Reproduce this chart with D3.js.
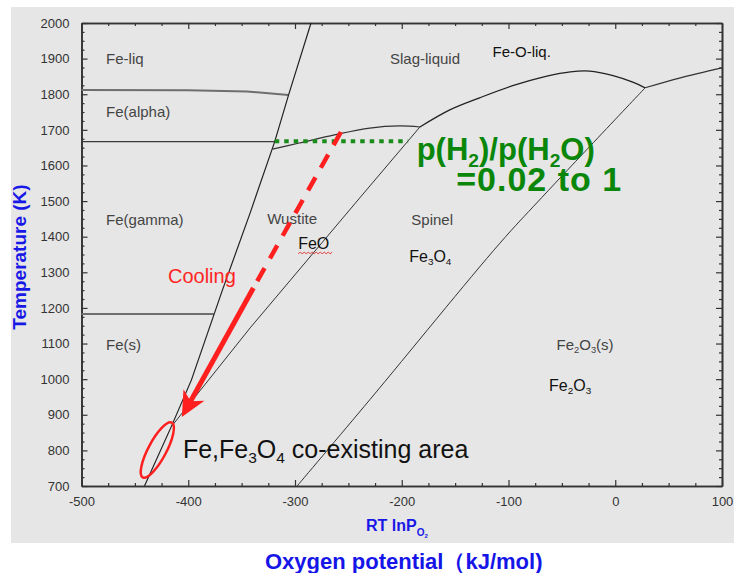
<!DOCTYPE html>
<html>
<head>
<meta charset="utf-8">
<script src="https://cdnjs.cloudflare.com/ajax/libs/d3/7.8.5/d3.min.js"></script>
<style>
  body { margin: 0; background: #fff; }
  svg { display: block; font-family: "Liberation Sans", Arial, sans-serif; }
</style>
</head>
<body>
<div id="chart"></div>
<script>
// Fe-O phase diagram, T (K) vs RT lnPO2 (kJ/mol)
var xTicks = [-500, -400, -300, -200, -100, 0, 100];
var yTicks = [700, 800, 900, 1000, 1100, 1200, 1300, 1400, 1500, 1600, 1700, 1800, 1900, 2000];

// phase boundaries, [RT lnPO2, T]
var feBoundary = [[-285, 2000], [-306, 1798], [-319, 1667], [-342, 1467], [-368, 1250], [-397, 998], [-416, 866], [-441, 700]];
var liqAlpha = [[-500, 1812], [-400, 1811], [-345, 1808], [-306, 1798]];
var alphaGamma = [[-500, 1667], [-319, 1667]];
var gammaSolid = [[-500, 1183], [-376, 1183]];
var wustiteTop = [[-321, 1646], [-296, 1663], [-263, 1686], [-230, 1705], [-202, 1711], [-183, 1708]];
var wustiteSpinel = [[-183, 1708], [-241, 1503], [-342, 1144], [-416, 866]];
var slagTop = [[-183, 1708], [-155, 1756], [-127, 1790], [-96, 1824], [-64, 1851], [-42, 1863], [-24, 1865], [-2, 1852], [17, 1833], [28, 1818]];
var feOLiq = [[28, 1818], [61, 1846], [100, 1874]];
var spinelHematite = [[28, 1818], [-71, 1503], [-108, 1382], [-230, 942], [-298, 700]];

// region names and where they sit
var regionNames = ["Fe-liq", "Fe(alpha)", "Fe(gamma)", "Fe(s)", "Slag-liquid", "Fe-O-liq.", "Wustite", "FeO", "Spinel", "Fe_3O_4", "Fe_2O_3(s)", "Fe_2O_3"];
var regionAt = [[-477, 1885], [-477, 1736], [-477, 1433], [-477, 1082], [-211, 1885], [-115, 1905], [-326, 1436], [-297, 1365], [-191, 1433], [-193, 1329], [-55, 1082], [-62, 967]];

// annotations
var h2Ratio = [[-319, 1668], [-194, 1668]];
var coolingPath = [[-257, 1694], [-339, 1256], [-406, 894]];
var coexistAt = [-429, 801];

var svg = d3.select("#chart").append("svg")
  .attr("width", 734)
  .attr("height", 573);

svg.append("rect")
  .attr("x", 11).attr("y", 7)
  .attr("width", 723).attr("height", 536)
  .attr("fill", "#e6e6e6");

var x = d3.scaleLinear().domain([-500, 100]).range([81.5, 722]);
var y = d3.scaleLinear().domain([700, 2000]).range([486, 23]);

var minorX = d3.range(-500, 101, 25).filter(function (d) { return d % 100 != 0; });
var minorY = d3.range(700, 2001, 25).filter(function (d) { return d % 100 != 0; });

function styleAxis(g) {
  g.select(".domain").attr("stroke", "#333").attr("stroke-width", 1.6);
  g.selectAll(".tick line").attr("stroke", "#333").attr("stroke-width", 1.2);
  g.selectAll(".tick text")
    .attr("fill", "#333")
    .style("font-size", "13px")
    .style("font-family", "'Liberation Sans', Arial, sans-serif");
}

// bottom
svg.append("g").attr("transform", "translate(0,486)")
  .call(d3.axisBottom(x).tickValues(minorX).tickSizeInner(-3).tickSizeOuter(0).tickFormat(""))
  .call(styleAxis);
svg.append("g").attr("transform", "translate(0,486)")
  .call(d3.axisBottom(x).tickValues(xTicks).tickSizeInner(-6).tickSizeOuter(0).tickPadding(11)
    .tickFormat(function (d) { return String(d); }))
  .call(styleAxis);
// top
svg.append("g").attr("transform", "translate(0,23)")
  .call(d3.axisTop(x).tickValues(minorX).tickSizeInner(-3).tickSizeOuter(0).tickFormat(""))
  .call(styleAxis);
svg.append("g").attr("transform", "translate(0,23)")
  .call(d3.axisTop(x).tickValues(xTicks).tickSizeInner(-6).tickSizeOuter(0).tickFormat(""))
  .call(styleAxis);
// left
svg.append("g").attr("transform", "translate(81.5,0)")
  .call(d3.axisLeft(y).tickValues(minorY).tickSizeInner(-3).tickSizeOuter(0).tickFormat(""))
  .call(styleAxis);
svg.append("g").attr("transform", "translate(81.5,0)")
  .call(d3.axisLeft(y).tickValues(yTicks).tickSizeInner(-6).tickSizeOuter(0).tickPadding(12)
    .tickFormat(function (d) { return String(d); }))
  .call(styleAxis);
// right
svg.append("g").attr("transform", "translate(722,0)")
  .call(d3.axisRight(y).tickValues(minorY).tickSizeInner(-3).tickSizeOuter(0).tickFormat(""))
  .call(styleAxis);
svg.append("g").attr("transform", "translate(722,0)")
  .call(d3.axisRight(y).tickValues(yTicks).tickSizeInner(-6).tickSizeOuter(0).tickFormat(""))
  .call(styleAxis);

var line = d3.line().x(function (d) { return x(d[0]); }).y(function (d) { return y(d[1]); });
var smooth = d3.line().x(function (d) { return x(d[0]); }).y(function (d) { return y(d[1]); })
  .curve(d3.curveCatmullRom.alpha(0.5));

function boundary(pts, gen, color, w) {
  svg.append("path")
    .attr("d", gen(pts))
    .attr("fill", "none")
    .attr("stroke", color)
    .attr("stroke-width", w);
}
boundary(liqAlpha, line, "#6e6e6e", 2);
boundary(gammaSolid, line, "#6e6e6e", 2);
boundary(alphaGamma, line, "#3a3a3a", 1.3);
boundary(feBoundary, line, "#222", 1.2);
boundary(wustiteTop, smooth, "#333", 1.2);
boundary(wustiteSpinel, line, "#333", 1);
boundary(slagTop, smooth, "#222", 1.3);
boundary(feOLiq, smooth, "#333", 1.1);
boundary(spinelHematite, smooth, "#333", 1);

// text with _n subscripts
function addText(parent, str, px, py, size, color, weight) {
  var t = parent.append("text")
    .attr("x", px).attr("y", py)
    .attr("fill", color)
    .style("font-size", size + "px")
    .style("font-weight", weight || "normal");
  var parts = str.split(/(_\d)/);
  var shift = size * 0.22, lowered = false;
  parts.forEach(function (p) {
    if (p == "") return;
    if (p[0] == "_") {
      t.append("tspan").attr("dy", lowered ? 0 : shift)
        .style("font-size", (size * 0.62) + "px").text(p.slice(1));
      lowered = true;
    } else {
      t.append("tspan").attr("dy", lowered ? -shift : 0).text(p);
      lowered = false;
    }
  });
  return t;
}

var dark = { "Fe-O-liq.": 15, "FeO": 16, "Fe_3O_4": 16, "Fe_2O_3": 16 };
regionNames.forEach(function (name, i) {
  var px = x(regionAt[i][0]), py = y(regionAt[i][1]);
  if (dark[name]) addText(svg, name, px, py, dark[name], "#111");
  else addText(svg, name, px, py, 15, "#444");
});

// spell-check squiggle under FeO
var feoX = x(regionAt[7][0]), feoY = y(regionAt[7][1]) + 3;
var sq = d3.range(0, 35, 2).map(function (d, i) { return [feoX + d, feoY + (i % 2 ? 0 : 1.6)]; });
svg.append("path").attr("d", d3.line()(sq)).attr("fill", "none").attr("stroke", "#e03030").attr("stroke-width", 0.9);

// H2/H2O ratio line
svg.append("path")
  .attr("d", line(h2Ratio))
  .attr("fill", "none")
  .attr("stroke", "#1a8c1a")
  .attr("stroke-width", 4)
  .attr("stroke-dasharray", "4.5,5");

addText(svg, "p(H_2)/p(H_2O)", x(-186), y(1615), 31, "#0a870a", "bold");
addText(svg, "=0.02 to 1", x(-149), y(1529), 34, "#0a870a", "bold")
  .style("letter-spacing", "1px");

// cooling arrow
var p0 = [x(coolingPath[0][0]), y(coolingPath[0][1])];
var p1 = [x(coolingPath[1][0]), y(coolingPath[1][1])];
var tip = [x(coolingPath[2][0]), y(coolingPath[2][1])];
svg.append("path")
  .attr("d", d3.line()([p0, p1]))
  .attr("stroke", "#ff1f1f").attr("stroke-width", 4.5)
  .attr("stroke-dasharray", "15,11");
var dx = tip[0] - p1[0], dy = tip[1] - p1[1], len = Math.sqrt(dx * dx + dy * dy);
var ux = dx / len, uy = dy / len, nx = -uy, ny = ux;
var headLen = 25, halfW = 12, notch = 7;
var base = [tip[0] - ux * headLen, tip[1] - uy * headLen];
var notchPt = [tip[0] - ux * (headLen - notch), tip[1] - uy * (headLen - notch)];
svg.append("path")
  .attr("d", d3.line()([p1, notchPt]))
  .attr("stroke", "#ff1f1f").attr("stroke-width", 5);
svg.append("path")
  .attr("d", d3.line()([tip, [base[0] + nx * halfW, base[1] + ny * halfW], notchPt,
    [base[0] - nx * halfW, base[1] - ny * halfW]]) + "Z")
  .attr("fill", "#ff1f1f");

addText(svg, "Cooling", x(-419), y(1270), 20, "#ff2424");

svg.append("ellipse")
  .attr("transform", "translate(" + x(coexistAt[0]) + "," + y(coexistAt[1]) + ") rotate(-62)")
  .attr("rx", 31).attr("ry", 9)
  .attr("fill", "none")
  .attr("stroke", "#ff1f1f")
  .attr("stroke-width", 2.5);

addText(svg, "Fe,Fe_3O_4 co-existing area", x(-405), y(779), 25, "#111");

// axis titles
svg.append("text")
  .attr("transform", "translate(26,257) rotate(-90)")
  .attr("text-anchor", "middle")
  .attr("fill", "#1818e6")
  .style("font-size", "19px")
  .style("font-weight", "bold")
  .text("Temperature (K)");

var rt = svg.append("text")
  .attr("x", 366).attr("y", 531)
  .attr("fill", "#1818e6")
  .style("font-size", "16px")
  .style("font-weight", "bold");
rt.append("tspan").text("RT lnP");
rt.append("tspan").attr("dy", 5).style("font-size", "10px").text("O");
rt.append("tspan").attr("dy", 2).style("font-size", "6px").text("2");

svg.append("text")
  .attr("x", 265).attr("y", 569)
  .attr("fill", "#1515e8")
  .style("font-size", "22px")
  .style("font-weight", "bold")
  .text("Oxygen potential（kJ/mol)");
</script>
</body>
</html>
